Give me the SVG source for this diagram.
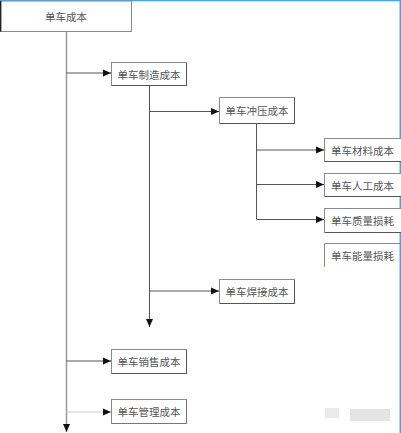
<svg xmlns="http://www.w3.org/2000/svg" width="401" height="433" viewBox="0 0 401 433">
<style>
.box{fill:#fff;stroke:#8a8a8a;stroke-width:1}
.sh{fill:none;stroke:#555;stroke-width:1}
.t{font-family:"Noto Sans CJK SC","Liberation Serif",serif;font-size:10.5px;fill:#555;text-anchor:middle;dominant-baseline:central}
.c{fill:none;stroke:#555;stroke-width:1}
.v{fill:none;stroke:#999;stroke-width:1.5}
</style>
<defs>
<marker id="ah" markerUnits="userSpaceOnUse" markerWidth="8" markerHeight="8" viewBox="0 0 8 8" refX="8" refY="4" orient="auto">
<path d="M0,0.5 L8,4 L0,7.5 Z" fill="#111"/>
</marker>
</defs>
<rect x="0" y="0" width="401" height="433" fill="#fff"/>
<line x1="0" y1="0.5" x2="401" y2="0.5" stroke="#42a5f5" stroke-width="1.5"/>
<line x1="400.3" y1="0" x2="400.3" y2="433" stroke="#42a5f5" stroke-width="1.5"/>
<g id="connectors">
<line class="v" x1="66.5" y1="32" x2="66.5" y2="432" marker-end="url(#ah)"/>
<line class="c" x1="66.5" y1="73" x2="111" y2="73" marker-end="url(#ah)"/>
<line class="c" x1="66.5" y1="361" x2="111" y2="361" marker-end="url(#ah)"/>
<line class="c" x1="66.5" y1="412" x2="111" y2="412" marker-end="url(#ah)" style="stroke:#ccc"/>
<line class="c" x1="149.5" y1="85" x2="149.5" y2="327" marker-end="url(#ah)"/>
<line class="c" x1="149.5" y1="111.5" x2="219" y2="111.5" marker-end="url(#ah)"/>
<line class="c" x1="149.5" y1="291" x2="219" y2="291" marker-end="url(#ah)"/>
<line class="c" x1="256.5" y1="123" x2="256.5" y2="219.5"/>
<line class="c" x1="256.5" y1="150" x2="324" y2="150" marker-end="url(#ah)"/>
<line class="c" x1="256.5" y1="184.5" x2="324" y2="184.5" marker-end="url(#ah)"/>
<line class="c" x1="256.5" y1="219.5" x2="324" y2="219.5" marker-end="url(#ah)"/>
</g>
<g id="n-root">
<rect class="box" x="0.5" y="1" width="131" height="30.5"/>
<line x1="0.7" y1="1" x2="0.7" y2="31.5" stroke="#222" stroke-width="1.4"/>
<text class="t" x="66" y="16.5">单车成本</text>
</g>
<g id="n-zhizao">
<rect class="box" x="111.5" y="62.5" width="75" height="23"/>
<path class="sh" d="M112,85.5 H186.5 V63"/>
<text class="t" x="149" y="74">单车制造成本</text>
</g>
<g id="n-chongya">
<rect class="box" x="219.5" y="97.5" width="75" height="26"/>
<path class="sh" d="M220,123.5 H294.5 V98"/>
<text class="t" x="257" y="110.5">单车冲压成本</text>
</g>
<g id="n-cailiao">
<rect class="box" x="324.5" y="138.5" width="80" height="23"/>
<path class="sh" d="M325,161.5 H401"/>
<text class="t" x="362.5" y="150">单车材料成本</text>
</g>
<g id="n-rengong">
<rect class="box" x="324.5" y="173.5" width="80" height="23"/>
<path class="sh" d="M325,196.5 H401"/>
<text class="t" x="362.5" y="185">单车人工成本</text>
</g>
<g id="n-zhiliang">
<rect class="box" x="324.5" y="208.5" width="80" height="24"/>
<path class="sh" d="M325,232.5 H401"/>
<text class="t" x="362.5" y="220.5">单车质量损耗</text>
</g>
<g id="n-nengliang">
<path class="box" d="M324.5,267 V243.5 H401" style="fill:none"/>
<text class="t" x="362.5" y="255">单车能量损耗</text>
</g>
<g id="n-hanjie">
<rect class="box" x="219.5" y="279.5" width="75" height="24"/>
<path class="sh" d="M220,303.5 H294.5 V280"/>
<text class="t" x="257" y="291.5">单车焊接成本</text>
</g>
<g id="n-xiaoshou">
<rect class="box" x="111.5" y="349.5" width="75" height="24"/>
<path class="sh" d="M112,373.5 H186.5 V350"/>
<text class="t" x="149" y="361.5">单车销售成本</text>
</g>
<g id="n-guanli">
<rect class="box" x="111.5" y="399.5" width="75" height="24"/>
<path class="sh" d="M112,423.5 H186.5 V400" style="stroke:#777"/>
<text class="t" x="149" y="411.5">单车管理成本</text>
</g>
<g id="watermark" opacity="0.3">
<rect x="325" y="408" width="14" height="10" fill="#bbb"/>
<rect x="350" y="409" width="40" height="12" fill="#aaa"/>
</g>
</svg>
